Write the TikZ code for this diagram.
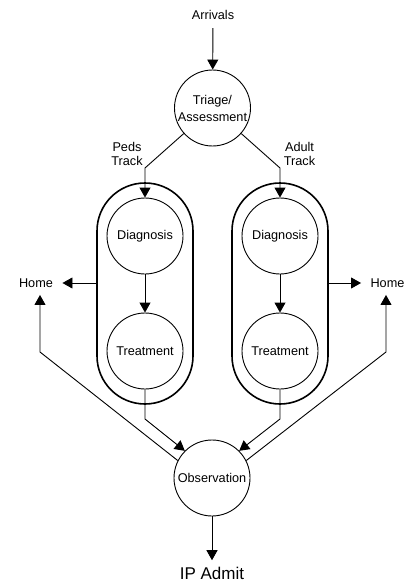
\documentclass[tikz,border=0pt]{standalone}
\usepackage{fontspec}
\setmainfont{Liberation Sans}
\usetikzlibrary{arrows.meta}

\begin{document}
\begin{tikzpicture}[x=1pt, y=-1pt, >={Triangle[length=10pt,width=11pt]},
  stage/.style={circle, draw, line width=0.9pt, minimum size=76pt, inner sep=0pt,
                align=center, font=\fontsize{12.7}{17}\selectfont},
  trackbox/.style={rectangle, draw, line width=1.6pt, rounded corners=48pt,
                   minimum width=96pt, minimum height=221pt},
  tag/.style={align=center, font=\fontsize{12.7}{14}\selectfont},
  flow/.style={line width=0.9pt}]

  \useasboundingbox (0,0) rectangle (414,583);

  % entry
  \node[tag] (arrivals) at (213,15) {Arrivals};
  \node[stage] (triage) at (212.5,108) {Triage/\\Assessment};
  \path[flow,->,shorten <=5pt] (arrivals) edge (triage);

  % peds track
  \node[trackbox] (pedsbox) at (145,293.5) {};
  \node[stage] (pedsdiag) at (145,236) {Diagnosis};
  \node[stage] (pedstreat) at (145,351) {Treatment};
  \node[tag] (pedslabel) at (127,154) {Peds\\Track};
  \coordinate (pedsbend) at (145,168);
  \coordinate (pedsout) at (145,419);

  % adult track
  \node[trackbox] (adultbox) at (280,293.5) {};
  \node[stage] (adultdiag) at (280,236) {Diagnosis};
  \node[stage] (adulttreat) at (280,351) {Treatment};
  \node[tag] (adultlabel) at (299.5,154) {Adult\\Track};
  \coordinate (adultbend) at (280,168);
  \coordinate (adultout) at (280,419);

  \draw[flow,->] (triage) -- (pedsbend) -- (pedsdiag);
  \draw[flow,->] (triage) -- (adultbend) -- (adultdiag);
  \path[flow,->] (pedsdiag) edge (pedstreat);
  \path[flow,->] (adultdiag) edge (adulttreat);

  % discharge home
  \node[tag] (homel) at (36,283) {Home};
  \node[tag] (homer) at (387.5,283) {Home};
  \coordinate (homelbend) at (40,352);
  \coordinate (homerbend) at (386,352);
  \draw[flow,->,shorten >=6pt] (pedsbox.west |- homel) -- (homel);
  \draw[flow,->,shorten >=6pt] (adultbox.east |- homer) -- (homer);

  % observation
  \node[stage] (obs) at (212,478) {Observation};
  \node[align=center, font=\fontsize{17}{20}\selectfont] (ipadmit) at (212,573) {IP Admit};

  \draw[flow,->] (pedstreat) -- (pedsout) -- (obs.135);
  \draw[flow,->] (adulttreat) -- (adultout) -- (obs.45);
  \draw[flow,->,shorten >=4pt] (obs.153) -- (homelbend) -- (homelbend |- homel.south);
  \draw[flow,->,shorten >=4pt] (obs.27) -- (homerbend) -- (homerbend |- homer.south);
  \path[flow,->,shorten >=3pt] (obs) edge (ipadmit);

\end{tikzpicture}
\end{document}
